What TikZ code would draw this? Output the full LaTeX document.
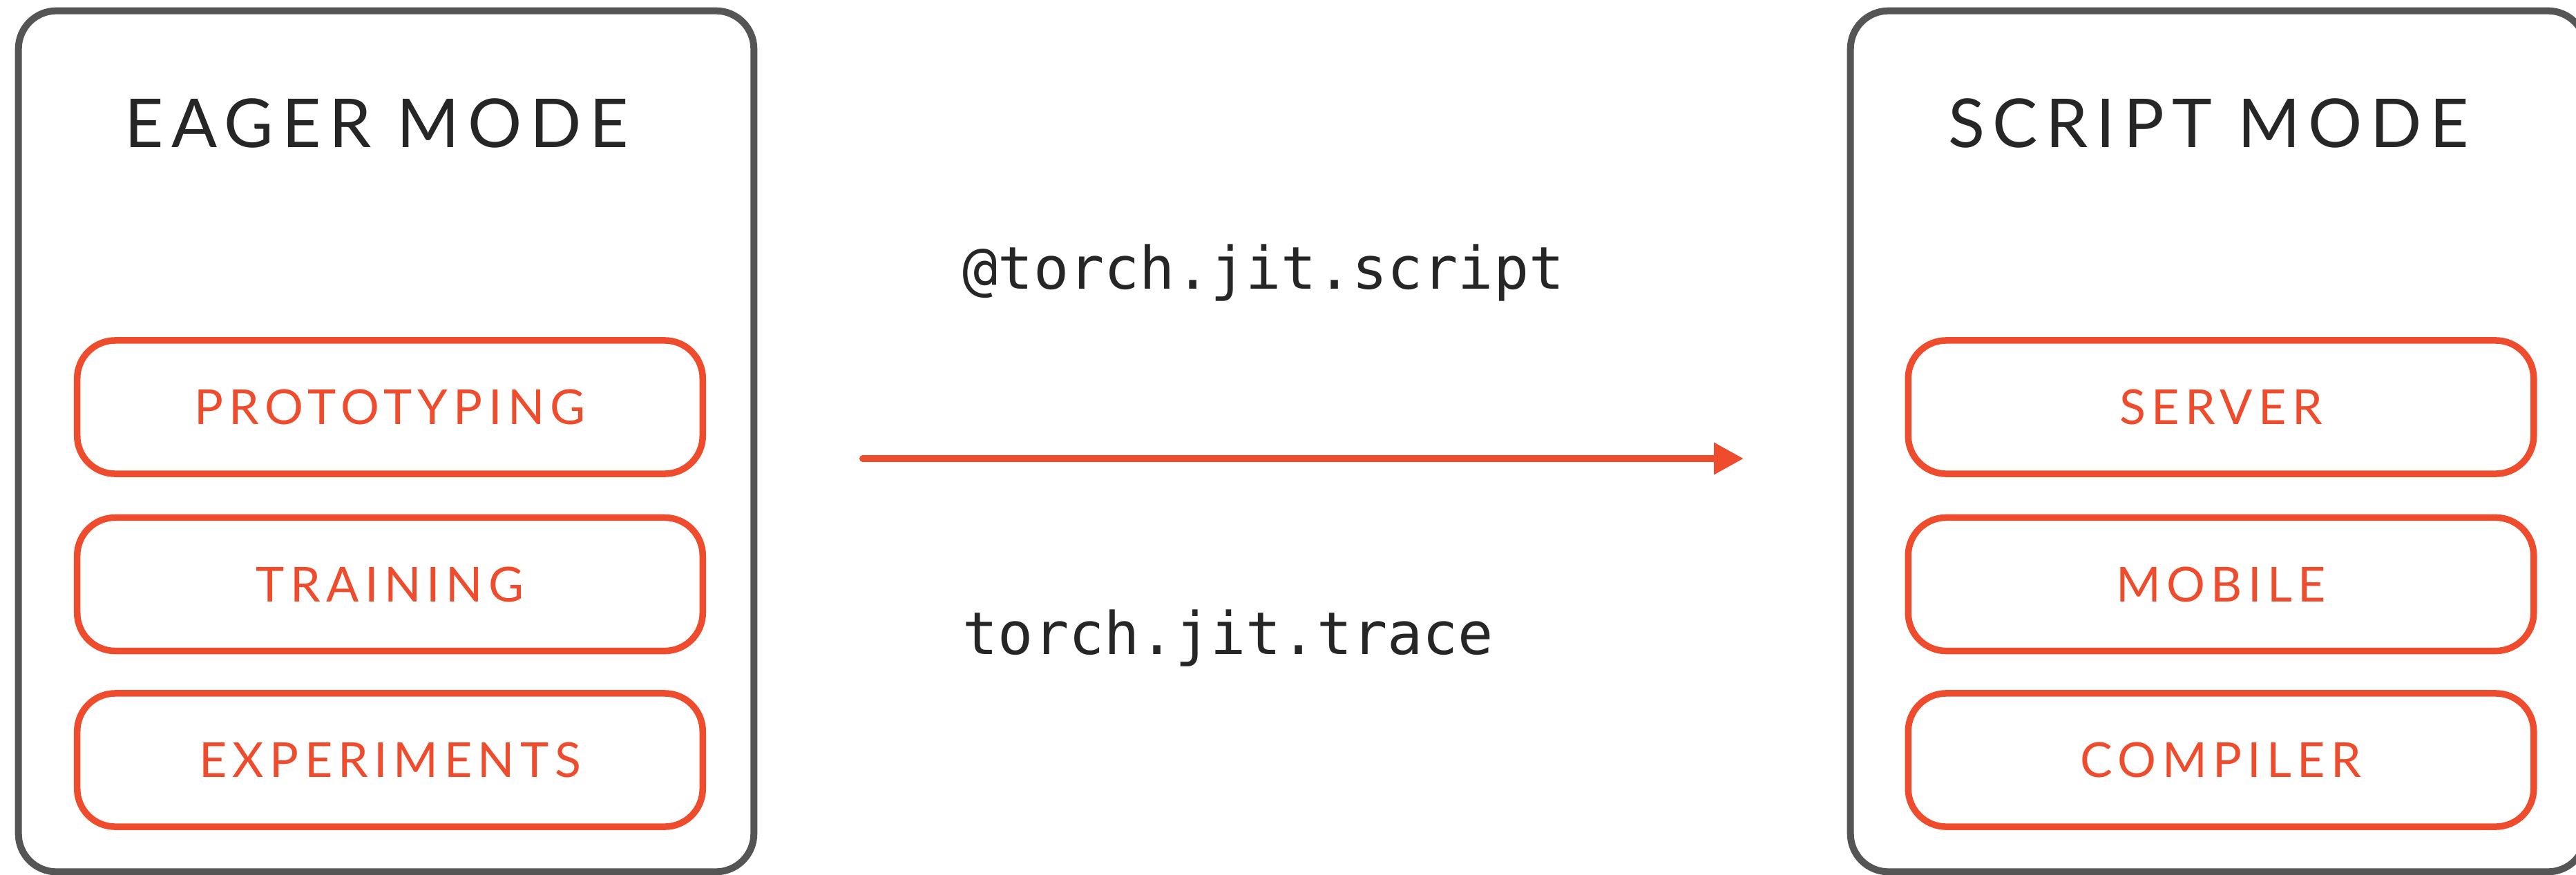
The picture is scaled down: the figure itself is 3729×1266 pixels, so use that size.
\documentclass[tikz,border=0pt]{standalone}
\usepackage{fontspec}
\setmainfont{Lato}
\newfontfamily\titlefont[LetterSpace=12]{Lato}
\newfontfamily\codefont{DejaVu Sans Mono}
\usetikzlibrary{arrows.meta}
\definecolor{torchorange}{HTML}{EE4C2C}
\definecolor{boxgray}{HTML}{555555}
\definecolor{inkdark}{HTML}{262626}
\begin{document}
\begin{tikzpicture}[x=0.01cm,y=-0.01cm,
  modebox/.style={draw=boxgray, line width=0.1cm, rounded corners=0.55cm, minimum width=10.64cm, minimum height=12.46cm, inner sep=0pt},
  usebox/.style={draw=torchorange, line width=0.095cm, rounded corners=0.55cm, minimum width=9.05cm, minimum height=1.93cm, inner sep=0pt, text=torchorange, font=\titlefont\fontsize{19.86}{20}\selectfont, text height=0.5cm, text depth=0pt},
  modetitle/.style={anchor=base, inner sep=0pt, text=inkdark, font=\titlefont\fontsize{27.8}{30}\selectfont},
  codelabel/.style={anchor=base west, inner sep=0pt, text=inkdark, font=\codefont\fontsize{24.2}{26}\selectfont},
  flow/.style={draw=torchorange, line width=0.1cm, line cap=round, -{Triangle[length=0.43cm,width=0.44cm]}}]
\useasboundingbox (0,0) rectangle (3729,1266);
\clip (0,0) rectangle (3729,1266);
\fill[white] (0,0) rectangle (3729,1266);
% mode boxes
\node[modebox] (eager) at (559,639) {};
\node[modebox] (script) at (3211,639) {};
\node[modetitle] (eagertitle) at (545,213) {EAGER MODE};
\node[modetitle] (scripttitle) at (3197,213) {SCRIPT MODE};
% eager uses
\node[usebox] (proto) at (564.5,589.5) {PROTOTYPING};
\node[usebox] (train) at (564.5,846) {TRAINING};
\node[usebox] (exper) at (564.5,1100.5) {EXPERIMENTS};
% script uses
\node[usebox] (server) at (3215,589.5) {SERVER};
\node[usebox] (mobile) at (3215,846) {MOBILE};
\node[usebox] (compiler) at (3215,1100.5) {COMPILER};
% arrow and labels
\coordinate (arrowstart) at (1249,664);
\coordinate (arrowend) at (2524,664);
\draw[flow] (arrowstart) -- (arrowend);
\node[codelabel] (scriptlabel) at (1393,418) {@torch.jit.script};
\node[codelabel] (tracelabel) at (1393,947) {torch.jit.trace};
\end{tikzpicture}
\end{document}
